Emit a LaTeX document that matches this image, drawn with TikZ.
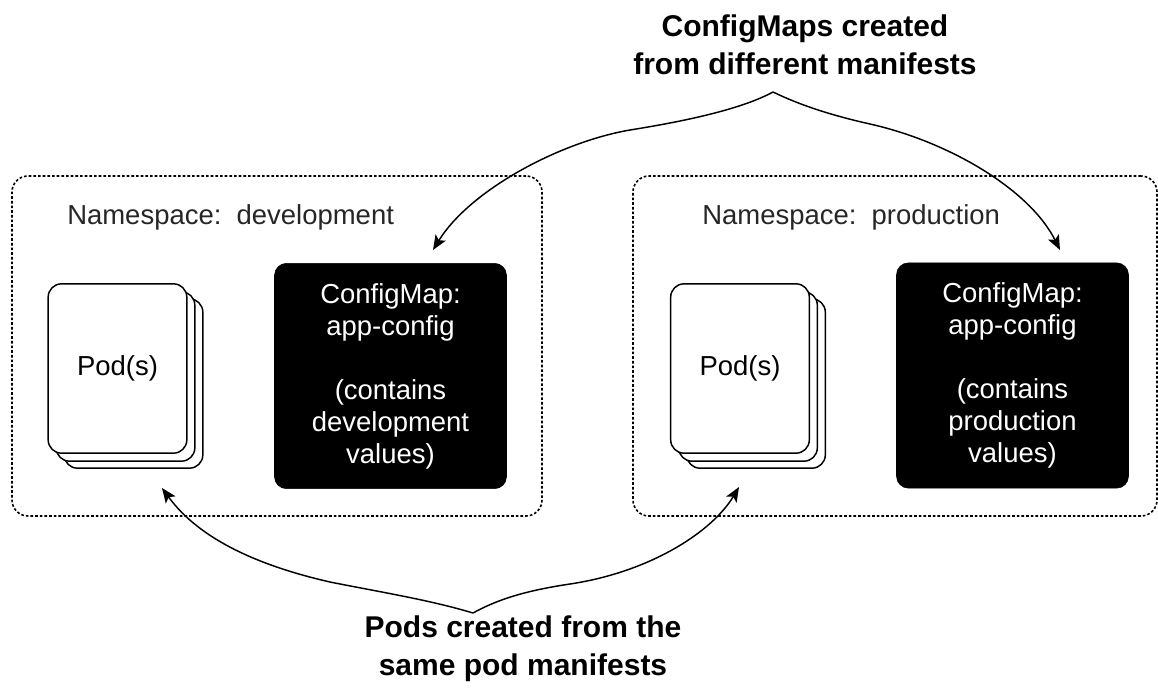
\documentclass[tikz,border=0pt]{standalone}
\usepackage{fontspec}
\setmainfont{Liberation Sans}
\usetikzlibrary{arrows.meta}
\begin{document}
\begin{tikzpicture}[x=0.75pt,y=-0.75pt,
  nsbox/.style={draw=black, line width=1.2pt, dash pattern=on 2pt off 1.5pt, rounded corners=12pt, inner sep=0pt},
  nslabel/.style={anchor=west, inner sep=0pt, text=black!85, font=\fontsize{20.6pt}{24pt}\selectfont},
  cmbox/.style={fill=black, draw=black, rounded corners=9pt, text=white, align=center, inner sep=0pt,
     minimum width=174pt, minimum height=169pt, font=\fontsize{20.6pt}{24pt}\selectfont},
  card/.style={draw=black, fill=white, line width=1.1pt, rounded corners=10pt, inner sep=0pt,
     minimum width=104pt, minimum height=127pt, font=\fontsize{20.6pt}{24pt}\selectfont},
  biglabel/.style={align=center, inner sep=0pt, font=\bfseries\fontsize{22.5pt}{28.5pt}\selectfont},
  curve/.style={draw=black, line width=1.1pt},
  tip/.style={-{Stealth[length=11pt, width=9pt, inset=2.5pt]}}
]
\useasboundingbox (0,0) rectangle (1158,687);

% namespaces
\node[nsbox, minimum width=397.5pt, minimum height=255pt] (nsdev) at (277,346) {};
\node[nsbox, minimum width=393pt, minimum height=255pt] (nsprod) at (895,346) {};
\node[nslabel] (nsdevlab) at (67,217) {Namespace:~~development};
\node[nslabel] (nsprodlab) at (702,217) {Namespace:~~production};

% pod stacks (left)
\node[card] (podL3) at (133.5,383.5) {};
\node[card] (podL2) at (125.5,376.5) {};
\node[card] (podL) at (117.5,368.5) {Pod(s)};
% pod stacks (right)
\node[card] (podR3) at (756,383.5) {};
\node[card] (podR2) at (748,376.5) {};
\node[card] (podR) at (740,368.5) {Pod(s)};

% configmaps
\node[cmbox] (cmdev) at (390.5,376) {ConfigMap:\\app-config\\[24pt](contains\\development\\values)};
\node[cmbox] (cmprod) at (1012.5,375.5) {ConfigMap:\\app-config\\[24pt](contains\\production\\values)};

% labels
\node[biglabel] (toplab) at (805,45) {ConfigMaps created\\from different manifests};
\node[biglabel] (botlab) at (523,648.5) {Pods created from the\\same pod manifests};

% connector end points
\coordinate (topapex) at (773,92);
\coordinate (botapex) at (473,613);
\coordinate (cmdevtip) at (433,250);
\coordinate (cmprodtip) at (1060,250);
\coordinate (podLtip) at (162,488);
\coordinate (podRtip) at (739,487);

% top brace arrows
\draw[curve, tip] (topapex) .. controls (740,110) and (680,122) .. (630,130)
   .. controls (560,142) and (470,190) .. (cmdevtip);
\draw[curve, tip] (topapex) .. controls (800,105) and (830,115) .. (870,124)
   .. controls (950,142) and (1030,190) .. (cmprodtip);

% bottom brace arrows
\draw[curve, tip] (botapex) .. controls (430,600) and (380,592) .. (330,582)
   .. controls (260,566) and (200,540) .. (podLtip);
\draw[curve, tip] (botapex) .. controls (500,598) and (530,590) .. (570,584)
   .. controls (650,572) and (712,532) .. (podRtip);
\end{tikzpicture}
\end{document}
